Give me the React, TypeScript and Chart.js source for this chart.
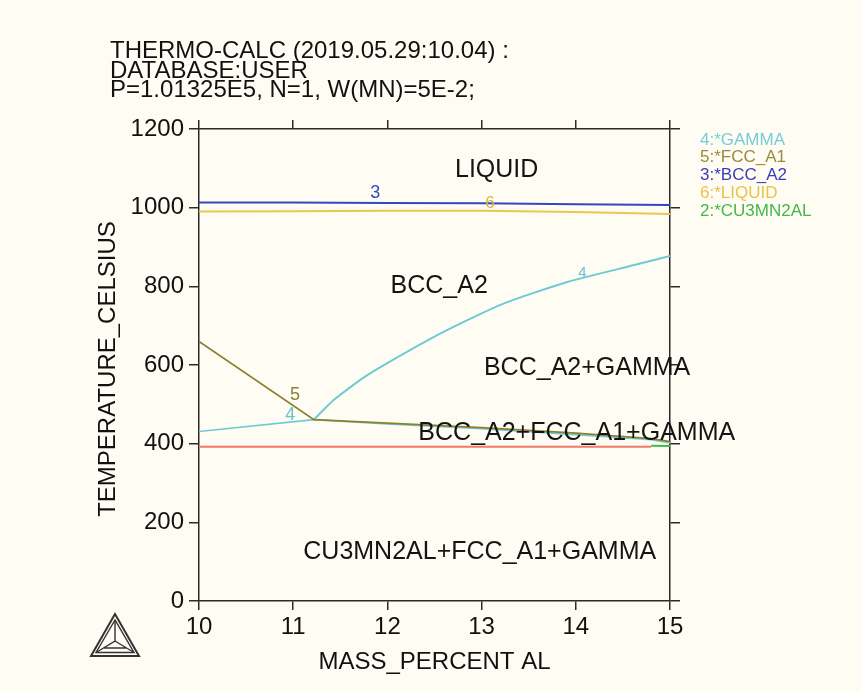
import { useEffect, useRef } from "react";
import { Chart, registerables } from "chart.js";

Chart.register(...registerables);

// ---- data ----
const xTicks = [10, 11, 12, 13, 14, 15];
const yTicks = [0, 200, 400, 600, 800, 1000, 1200];

const bccX = [10, 11, 12, 13, 14, 15];
const bccT = [1013, 1013, 1012, 1011, 1009, 1007];

const liquidX = [10, 11, 12, 13, 14, 15];
const liquidT = [990, 991, 992, 992, 989, 984];

const gammaUpperX = [11.22, 11.43, 11.79, 12.49, 13.2, 13.91, 14.62, 15];
const gammaUpperT = [461, 511, 575, 671, 753, 811, 854, 877];

const gammaLowerX = [10, 11.22, 12, 13, 14, 14.8, 15];
const gammaLowerT = [431, 461, 450, 438, 423, 410, 402];

const fccX = [10, 11.22, 12, 13, 14, 14.8, 15];
const fccT = [660, 461, 452, 441, 427, 413, 405];

const cu3X = [14.8, 15];
const cu3T = [395, 394];

const solidusX = [10, 14.8];
const solidusT = [392, 392];

const titleLines = [
  "THERMO-CALC (2019.05.29:10.04) :",
  "DATABASE:USER",
  "P=1.01325E5, N=1, W(MN)=5E-2;",
];
const legendLabels = ["4:*GAMMA", "5:*FCC_A1", "3:*BCC_A2", "6:*LIQUID", "2:*CU3MN2AL"];
const regionLabels = ["LIQUID", "BCC_A2", "BCC_A2+GAMMA", "BCC_A2+FCC_A1+GAMMA", "CU3MN2AL+FCC_A1+GAMMA"];
const regionX = [13.16, 12.55, 14.12, 14.01, 12.98];
const regionT = [1096, 801, 592, 427, 125];
const lineTags = ["3", "6", "4", "5", "4"];
const lineTagX = [11.87, 13.09, 14.07, 11.02, 10.97];
const lineTagT = [1037, 1012, 834, 524, 473];

// ---- styles ----
const BG = "#fffdf3";
const AX = "#2b2b2b";
const F = '"Liberation Sans", Arial, Helvetica, sans-serif';
const C_GAMMA = "#6fcbd3";
const C_FCC = "#8c7f30";
const C_BCC = "#3347c2";
const C_LIQ = "#ecc655";
const C_CU3 = "#3fb84a";
const C_RED = "#f07a6a";
const legendColors = ["#76ccd6", "#9a8a3c", "#3a3cb8", "#e8c24c", "#45b64a"];
const tagColors = [C_BCC, "#d8b440", "#66c4cc", "#8c7f30", "#66c4cc"];
const tagSizes = [18, 17, 15, 18, 18];

const pts = (xs: number[], ys: number[]) => xs.map((x, i) => ({ x, y: ys[i] }));

const overlay = {
  id: "overlay",
  beforeDraw(chart: any) {
    const { ctx, width, height } = chart;
    ctx.save();
    ctx.fillStyle = BG;
    ctx.fillRect(0, 0, width, height);
    ctx.restore();
  },
  afterDraw(chart: any) {
    const { ctx, chartArea } = chart;
    const sx = chart.scales.x;
    const sy = chart.scales.y;
    ctx.save();
    // title
    ctx.fillStyle = "#111";
    ctx.font = `24px ${F}`;
    ctx.textAlign = "left";
    ctx.textBaseline = "alphabetic";
    titleLines.forEach((t, i) => ctx.fillText(t, 110, 58 + i * 19.5));

    // region labels
    ctx.font = `25px ${F}`;
    ctx.textAlign = "center";
    ctx.textBaseline = "middle";
    ctx.fillStyle = "#141414";
    regionLabels.forEach((t, i) => {
      ctx.fillText(t, sx.getPixelForValue(regionX[i]), sy.getPixelForValue(regionT[i]));
    });

    // line tags
    lineTags.forEach((t, i) => {
      ctx.font = `${tagSizes[i]}px ${F}`;
      ctx.fillStyle = tagColors[i];
      ctx.fillText(t, sx.getPixelForValue(lineTagX[i]), sy.getPixelForValue(lineTagT[i]));
    });

    // legend
    ctx.font = `17px ${F}`;
    ctx.textAlign = "left";
    legendLabels.forEach((t, i) => {
      ctx.fillStyle = legendColors[i];
      ctx.fillText(t, chartArea.right + 30, chartArea.top + 11 + i * 17.8);
    });

    // axis titles
    ctx.fillStyle = "#111";
    ctx.font = `24px ${F}`;
    ctx.textAlign = "center";
    ctx.fillText("MASS_PERCENT AL", (chartArea.left + chartArea.right) / 2, 662);
    ctx.save();
    ctx.translate(108, (chartArea.top + chartArea.bottom) / 2 + 4);
    ctx.rotate(-Math.PI / 2);
    ctx.fillText("TEMPERATURE_CELSIUS", 0, 0);
    ctx.restore();

    // Thermo-Calc logo
    ctx.strokeStyle = "#333";
    ctx.lineJoin = "miter";
    ctx.lineWidth = 2;
    ctx.beginPath();
    ctx.moveTo(115, 614);
    ctx.lineTo(91, 656);
    ctx.lineTo(139, 656);
    ctx.closePath();
    ctx.stroke();
    ctx.lineWidth = 1.4;
    ctx.beginPath();
    ctx.moveTo(115, 620);
    ctx.lineTo(96, 652.5);
    ctx.lineTo(134, 652.5);
    ctx.closePath();
    ctx.stroke();
    ctx.beginPath();
    ctx.moveTo(115, 620);
    ctx.lineTo(115, 641);
    ctx.lineTo(96, 652.5);
    ctx.moveTo(115, 641);
    ctx.lineTo(134, 652.5);
    ctx.moveTo(104, 648);
    ctx.lineTo(126, 648);
    ctx.stroke();
    ctx.restore();
  },
};

export default function App() {
  const ref = useRef<HTMLCanvasElement | null>(null);

  useEffect(() => {
    if (!ref.current) return;
    const line = (data: any, color: string, extra: any = {}) => ({
      data,
      borderColor: color,
      backgroundColor: color,
      borderWidth: 2,
      showLine: true,
      pointRadius: 0,
      fill: false,
      ...extra,
    });
    const tickFont = { family: F, size: 24 };
    const plain = (v: any) => String(v);
    const chart = new Chart(ref.current, {
      type: "scatter",
      data: {
        datasets: [
          line(pts(solidusX, solidusT), C_RED),
          line(pts(cu3X, cu3T), C_CU3),
          line(pts(fccX, fccT), C_FCC, { borderWidth: 1.8 }),
          line(pts(gammaLowerX, gammaLowerT), C_GAMMA, { borderWidth: 1.6 }),
          line(pts(gammaUpperX, gammaUpperT), C_GAMMA, { tension: 0.2 }),
          line(pts(liquidX, liquidT), C_LIQ),
          line(pts(bccX, bccT), C_BCC),
        ],
      },
      options: {
        responsive: false,
        animation: false,
        events: [],
        layout: { padding: 0 },
        plugins: { legend: { display: false }, tooltip: { enabled: false } },
        scales: {
          x: {
            type: "linear",
            position: "bottom",
            min: 10,
            max: 15,
            afterBuildTicks: (s: any) => { s.ticks = xTicks.map((v) => ({ value: v })); },
            ticks: { font: tickFont, color: "#111", padding: 3, maxRotation: 0, autoSkip: false, callback: plain },
            grid: { drawOnChartArea: false, drawTicks: true, tickLength: 9, color: AX, lineWidth: 1.5 },
            border: { display: true, color: AX, width: 1.5 },
            afterFit: (s: any) => { s.height = 91; },
          },
          x2: {
            type: "linear",
            position: "top",
            display: true,
            min: 10,
            max: 15,
            afterBuildTicks: (s: any) => { s.ticks = xTicks.map((v) => ({ value: v })); },
            ticks: { display: false },
            grid: { drawOnChartArea: false, drawTicks: true, tickLength: 9, color: AX, lineWidth: 1.5 },
            border: { display: true, color: AX, width: 1.5 },
            afterFit: (s: any) => { s.height = 129; },
          },
          y: {
            type: "linear",
            position: "left",
            min: 0,
            max: 1200,
            afterBuildTicks: (s: any) => { s.ticks = yTicks.map((v) => ({ value: v })); },
            ticks: { font: tickFont, color: "#111", padding: 5, autoSkip: false, callback: plain },
            grid: { drawOnChartArea: false, drawTicks: true, tickLength: 10, color: AX, lineWidth: 1.5 },
            border: { display: true, color: AX, width: 1.5 },
            afterFit: (s: any) => { s.width = 199; },
          },
          y2: {
            type: "linear",
            position: "right",
            display: true,
            min: 0,
            max: 1200,
            afterBuildTicks: (s: any) => { s.ticks = yTicks.map((v) => ({ value: v })); },
            ticks: { display: false },
            grid: { drawOnChartArea: false, drawTicks: true, tickLength: 10, color: AX, lineWidth: 1.5 },
            border: { display: true, color: AX, width: 1.5 },
            afterFit: (s: any) => { s.width = 191; },
          },
        },
      },
      plugins: [overlay],
    } as any);
    return () => chart.destroy();
  }, []);

  return (
    <div style={{ position: "absolute", left: 0, top: 0, width: 861, height: 692, background: BG }}>
      <canvas ref={ref} width={861} height={692} style={{ display: "block" }} />
    </div>
  );
}
